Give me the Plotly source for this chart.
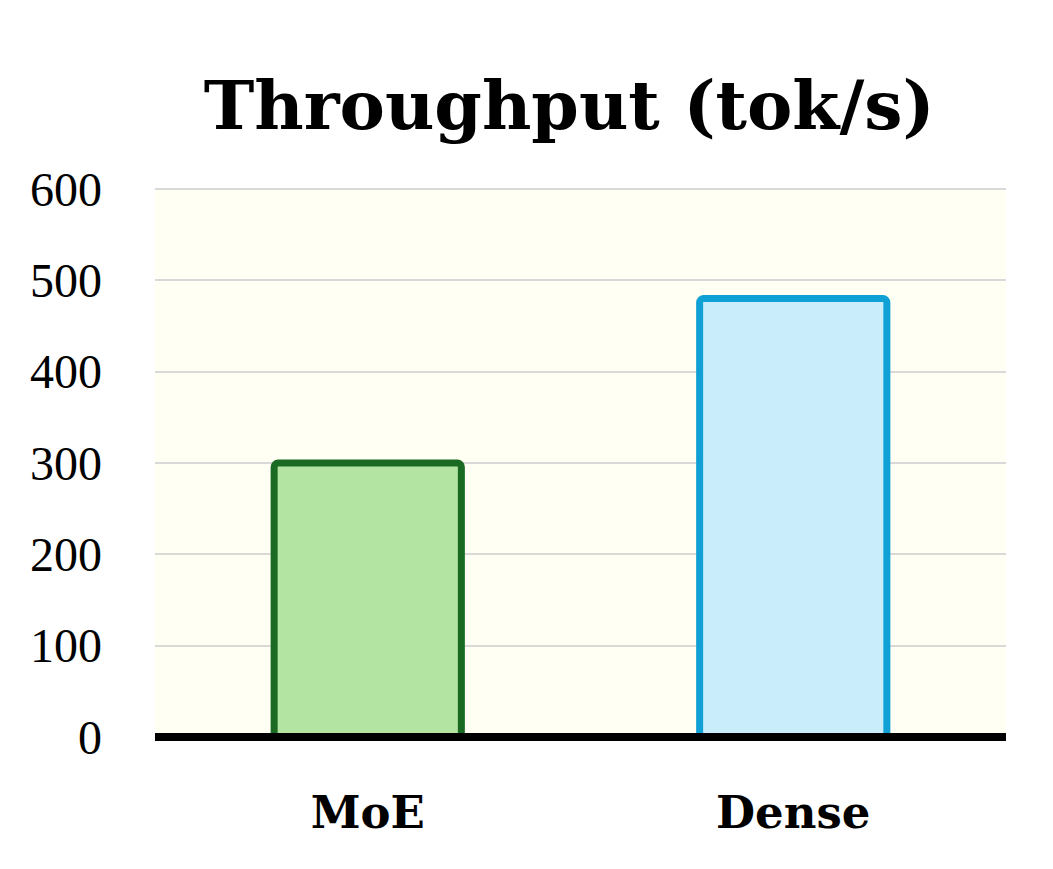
import plotly.graph_objects as go

categories = ["MoE", "Dense"]
throughput = [300, 480]
fill_colors = ["#b4e4a2", "#c9edfb"]
line_colors = ["#1a6a23", "#0fa0d6"]
y_ticks = [0, 100, 200, 300, 400, 500, 600]

fig = go.Figure()

fig.add_trace(go.Bar(
    x=categories,
    y=throughput,
    width=0.44,
    marker=dict(
        color=fill_colors,
        line=dict(color=line_colors, width=7),
        cornerradius=4,
    ),
    showlegend=False,
))

# top gridline at the range edge, and the thick black baseline over the bars
# (paper refs so the lines are not clipped by the plot area)
fig.add_shape(type="line", xref="paper", yref="paper", x0=0, x1=1, y0=1, y1=1,
              line=dict(color="#d9d9d9", width=2), layer="below")
fig.add_shape(type="line", xref="paper", yref="paper", x0=0, x1=1, y0=0, y1=0,
              line=dict(color="black", width=8), layer="above")

fig.update_layout(
    width=1053,
    height=869,
    paper_bgcolor="white",
    plot_bgcolor="#fffff3",
    font=dict(family="Liberation Serif", color="black"),
    title=dict(
        text="<b>Throughput (tok/s)</b>",
        x=0.533, xanchor="center",
        y=0.888, yanchor="middle",
        font=dict(size=68, family="DejaVu Serif"),
    ),
    margin=dict(l=147, r=55, t=181, b=140),
    bargap=0.56,
)

fig.update_yaxes(
    range=[0, 600],
    tickvals=y_ticks,
    tickfont=dict(size=48),
    showgrid=True,
    gridcolor="#d9d9d9",
    gridwidth=2,
    zeroline=False,
    showline=False,
    ticklabelstandoff=52,
)

fig.update_xaxes(
    tickfont=dict(size=45, family="DejaVu Serif"),
    ticktext=["<b>MoE</b>", "<b>Dense</b>"],
    tickvals=categories,
    showline=False,
    ticklabelstandoff=45,
)

fig.write_html("out.html")
